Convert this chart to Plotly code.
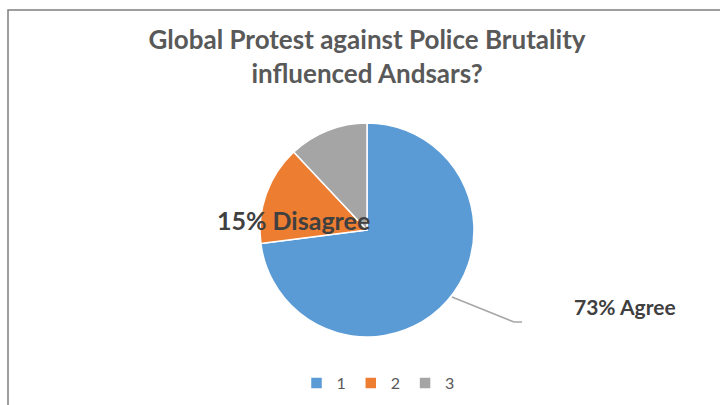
import plotly.graph_objects as go

categories = ["1", "2", "3"]
values = [73, 15, 12]
label_names = ["Agree", "Disagree", ""]
colors = ["#5b9bd5", "#ed7d31", "#a5a5a5"]

W, H = 720, 405
cx, cy, r = 367, 230, 107

fig = go.Figure(go.Pie(
    labels=categories,
    values=values,
    sort=False,
    direction="clockwise",
    rotation=0,
    textinfo="none",
    hoverinfo="label+percent",
    marker=dict(colors=colors, line=dict(color="white", width=1.5)),
    domain=dict(x=[(cx - r) / W, (cx + r) / W], y=[(H - cy - r) / H, (H - cy + r) / H]),
))

def px(x, y):
    return x / W, 1 - y / H

FONT = "Lato, Open Sans, sans-serif"
txt_color = "#404040"
ax, ay = px(293, 220)
fig.add_annotation(x=ax, y=ay, xref="paper", yref="paper", xanchor="center", yanchor="middle",
                   text=f"<b>{values[1]}% {label_names[1]}</b>", showarrow=False,
                   font=dict(family=FONT, size=25, color=txt_color))
bx, by = px(625, 306)
fig.add_annotation(x=bx, y=by, xref="paper", yref="paper", xanchor="center", yanchor="middle",
                   text=f"<b>{values[0]}% {label_names[0]}</b>", showarrow=False,
                   font=dict(family=FONT, size=21, color=txt_color))

# leader line
pts = [(452, 297), (514, 322), (522, 322)]
for (x0, y0), (x1, y1) in zip(pts[:-1], pts[1:]):
    a0, b0 = px(x0, y0)
    a1, b1 = px(x1, y1)
    fig.add_shape(type="line", xref="paper", yref="paper", x0=a0, y0=b0, x1=a1, y1=b1,
                  line=dict(color="#a6a6a6", width=1.5))

# chart border (cropped)
l, t = px(8, 10)
fig.add_shape(type="rect", xref="paper", yref="paper", x0=l, y0=-0.05, x1=1.05, y1=t,
              line=dict(color="#7f7f7f", width=1.5))

fig.update_layout(
    width=W, height=H,
    margin=dict(l=0, r=0, t=0, b=0),
    paper_bgcolor="white",
    plot_bgcolor="white",
    title=dict(text="<b>Global Protest against Police Brutality<br>influenced Andsars?</b>",
               x=367 / W, xanchor="center", y=1 - 49 / H, yanchor="middle",
               font=dict(family=FONT, size=26, color="#595959")),
    showlegend=True,
    legend=dict(orientation="h", x=378 / W, xanchor="center", y=1 - 383 / H, yanchor="middle",
                font=dict(family=FONT, size=16, color="#595959"),
                itemwidth=30, traceorder="normal"),
)

fig.write_html("out.html")
